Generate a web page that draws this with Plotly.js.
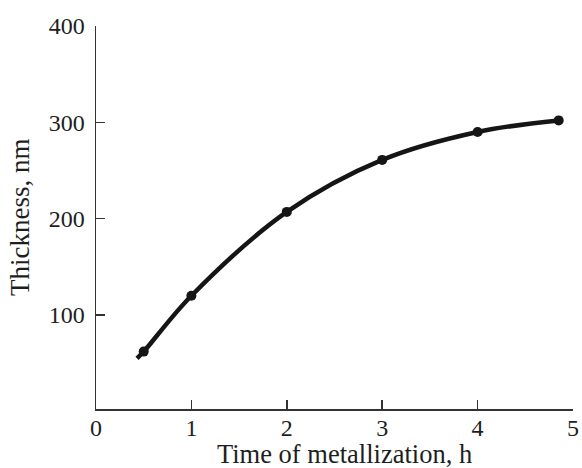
<!DOCTYPE html>
<html>
<head>
<meta charset="utf-8">
<script src="https://cdn.plot.ly/plotly-3.0.1.min.js"></script>
<style>html,body{margin:0;padding:0;background:#fff;}#chart{width:582px;height:468px;}</style>
</head>
<body>
<div id="chart"></div>
<script>
// Measured points
const timeH = [0.5, 1, 2, 3, 4, 4.85];
const thicknessNm = [62, 120, 207, 261, 290, 302];
// Fitted curve
const curveTime = [0.43, 0.5, 1, 2, 3, 4, 4.85];
const curveThickness = [55, 62, 120, 207, 261, 290, 302];
const xTickVals = [0, 1, 2, 3, 4, 5];
const yTickVals = [100, 200, 300, 400];
const xTitle = 'Time of metallization, h';
const yTitle = 'Thickness, nm';

const font = {family: '"Liberation Serif", "Times New Roman", serif', color: '#1e1e1e'};
const W = 582, H = 468, M = {l: 96, r: 9, t: 26, b: 59};
const pw = W - M.l - M.r, ph = H - M.t - M.b;

const traces = [
  {x: curveTime, y: curveThickness, type: 'scatter', mode: 'lines',
   line: {color: '#151515', width: 4.5, shape: 'spline', smoothing: 1}, hoverinfo: 'skip'},
  {x: timeH, y: thicknessNm, type: 'scatter', mode: 'markers',
   marker: {color: '#151515', size: 10, symbol: 'circle'}}
];

const layout = {
  width: W, height: H,
  margin: M,
  paper_bgcolor: '#fff', plot_bgcolor: '#fff',
  showlegend: false,
  font: Object.assign({size: 24}, font),
  xaxis: {
    range: [0, 5], tickvals: xTickVals, ticktext: xTickVals.map(String),
    showgrid: false, zeroline: false, showline: true, linecolor: '#333', linewidth: 1.5,
    ticks: 'inside', ticklen: 9, tickwidth: 1.5, tickcolor: '#333',
    ticklabelstandoff: -3,
    tickfont: Object.assign({size: 24}, font)
  },
  yaxis: {
    range: [2.4, 400], tickvals: yTickVals, ticktext: yTickVals.map(String),
    showgrid: false, zeroline: false, showline: true, linecolor: '#333', linewidth: 1.5,
    ticks: 'inside', ticklen: 9, tickwidth: 1.5, tickcolor: '#333',
    ticklabelstandoff: 5,
    tickfont: Object.assign({size: 24}, font)
  },
  annotations: [
    {text: xTitle, xref: 'paper', yref: 'paper', showarrow: false,
     x: (344 - M.l) / pw, y: (H - M.b - 453.5) / ph, xanchor: 'center', yanchor: 'middle',
     font: Object.assign({size: 26.5}, font)},
    {text: yTitle, xref: 'paper', yref: 'paper', showarrow: false, textangle: -90,
     x: (20 - M.l) / pw, y: (H - M.b - 218) / ph, xanchor: 'center', yanchor: 'middle',
     font: Object.assign({size: 27}, font)}
  ]
};

Plotly.newPlot('chart', traces, layout, {displayModeBar: false, staticPlot: true});
</script>
</body>
</html>
